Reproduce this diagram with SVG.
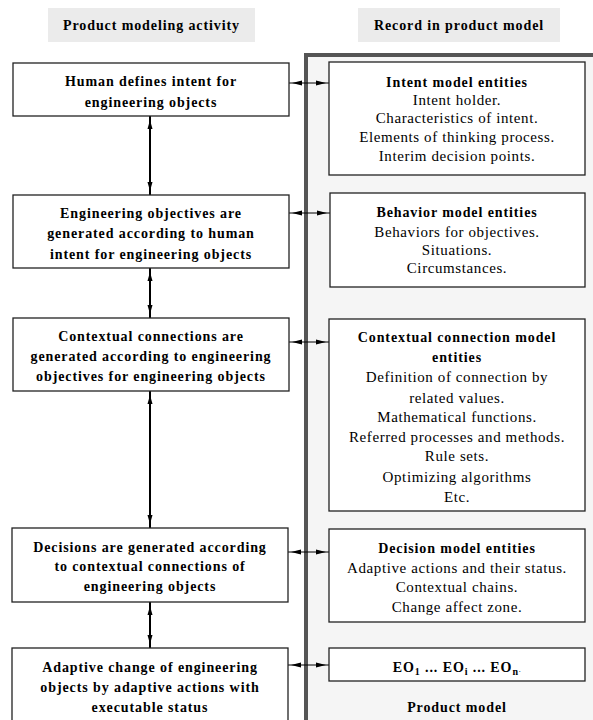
<svg xmlns="http://www.w3.org/2000/svg" width="593" height="720" viewBox="0 0 593 720">
<defs>
<marker id="ah" viewBox="0 0 20 10" refX="13" refY="5" markerWidth="20" markerHeight="10" markerUnits="userSpaceOnUse" orient="auto-start-reverse">
<path d="M0,2.5 L9,5 L0,7.5 Z" fill="#000"/>
</marker>
<marker id="ahh" viewBox="0 0 20 10" refX="13" refY="5" markerWidth="20" markerHeight="10" markerUnits="userSpaceOnUse" orient="auto-start-reverse">
<path d="M0,2.5 L10,5 L0,7.5 Z" fill="#000"/>
</marker>
</defs>
<style>
.hdr{fill:#ebebeb;stroke:none}
.box{fill:#fff;stroke:#222;stroke-width:1.3}
.b{font-family:'Liberation Serif','DejaVu Serif',serif;font-weight:bold;font-size:14px;fill:#000;text-anchor:middle;letter-spacing:0.9px}
.r{font-family:'Liberation Serif','DejaVu Serif',serif;font-size:15px;fill:#000;text-anchor:middle;letter-spacing:0.6px}
.v{stroke:#000;stroke-width:2;fill:none;marker-start:url(#ah);marker-end:url(#ah)}
.h{stroke:#000;stroke-width:1;fill:none;marker-start:url(#ahh);marker-end:url(#ahh)}
</style>
<rect width="593" height="720" fill="#fff"/>

<g id="header-left">
<rect class="hdr" x="48" y="8" width="207" height="34"/>
<text class="b" x="151.5" y="30">Product modeling activity</text>
</g>
<g id="header-right">
<rect class="hdr" x="358" y="8" width="202" height="34"/>
<text class="b" x="459" y="30">Record in product model</text>
</g>

<g id="product-model">
<rect x="306" y="55" width="300" height="680" fill="#f5f5f5" stroke="#555" stroke-width="4"/>
<text class="b" x="457" y="712">Product model</text>
</g>

<g id="connectors">
<path class="v" d="M150,116 V195"/>
<path class="v" d="M150,268 V318"/>
<path class="v" d="M150,391 V528"/>
<path class="v" d="M150,602 V648"/>
<path class="h" d="M289,83 H329"/>
<path class="h" d="M289,213 H330"/>
<path class="h" d="M289,342 H329"/>
<path class="h" d="M288,552 H329"/>
<path class="h" d="M288,665 H329"/>
</g>

<g id="a1">
<rect class="box" x="13" y="63" width="276" height="53"/>
<text class="b" x="151" y="86">Human defines intent for</text>
<text class="b" x="151" y="107">engineering objects</text>
</g>
<g id="a2">
<rect class="box" x="13" y="195" width="276" height="73"/>
<text class="b" x="151" y="218">Engineering objectives are</text>
<text class="b" x="151" y="238">generated according to human</text>
<text class="b" x="151" y="259">intent for engineering objects</text>
</g>
<g id="a3">
<rect class="box" x="13" y="318" width="276" height="73"/>
<text class="b" x="151" y="341">Contextual connections are</text>
<text class="b" x="151" y="361">generated according to engineering</text>
<text class="b" x="151" y="381">objectives for engineering objects</text>
</g>
<g id="a4">
<rect class="box" x="12" y="528" width="276" height="74"/>
<text class="b" x="150" y="552">Decisions are generated according</text>
<text class="b" x="150" y="571">to contextual connections of</text>
<text class="b" x="150" y="591">engineering objects</text>
</g>
<g id="a5">
<rect class="box" x="12" y="648" width="276" height="80"/>
<text class="b" x="150" y="672">Adaptive change of engineering</text>
<text class="b" x="150" y="692">objects by adaptive actions with</text>
<text class="b" x="150" y="712">executable status</text>
</g>

<g id="m1">
<rect class="box" x="329" y="62" width="256" height="113"/>
<text class="b" x="457" y="87">Intent model entities</text>
<text class="r" x="457" y="105">Intent holder.</text>
<text class="r" x="457" y="123">Characteristics of intent.</text>
<text class="r" x="457" y="142">Elements of thinking process.</text>
<text class="r" x="457" y="161">Interim decision points.</text>
</g>
<g id="m2">
<rect class="box" x="330" y="193" width="255" height="94"/>
<text class="b" x="457" y="217">Behavior model entities</text>
<text class="r" x="457" y="237">Behaviors for objectives.</text>
<text class="r" x="457" y="255">Situations.</text>
<text class="r" x="457" y="273">Circumstances.</text>
</g>
<g id="m3">
<rect class="box" x="329" y="319" width="256" height="192"/>
<text class="b" x="457" y="342">Contextual connection model</text>
<text class="b" x="457" y="362">entities</text>
<text class="r" x="457" y="382">Definition of connection by</text>
<text class="r" x="457" y="403">related values.</text>
<text class="r" x="457" y="422">Mathematical functions.</text>
<text class="r" x="457" y="442">Referred processes and methods.</text>
<text class="r" x="457" y="461">Rule sets.</text>
<text class="r" x="457" y="482">Optimizing algorithms</text>
<text class="r" x="457" y="502">Etc.</text>
</g>
<g id="m4">
<rect class="box" x="329" y="529" width="256" height="93"/>
<text class="b" x="457" y="553">Decision model entities</text>
<text class="r" x="457" y="573">Adaptive actions and their status.</text>
<text class="r" x="457" y="592">Contextual chains.</text>
<text class="r" x="457" y="612">Change affect zone.</text>
</g>
<g id="m5">
<rect class="box" x="329" y="648" width="256" height="33"/>
<text class="b" x="457" y="672">EO<tspan font-size="10" dy="3">1</tspan><tspan dy="-3"> ... EO</tspan><tspan font-size="10" dy="3">i</tspan><tspan dy="-3"> ... EO</tspan><tspan font-size="10" dy="3">n</tspan><tspan font-size="6" dy="-3">.</tspan></text>
</g>
</svg>
